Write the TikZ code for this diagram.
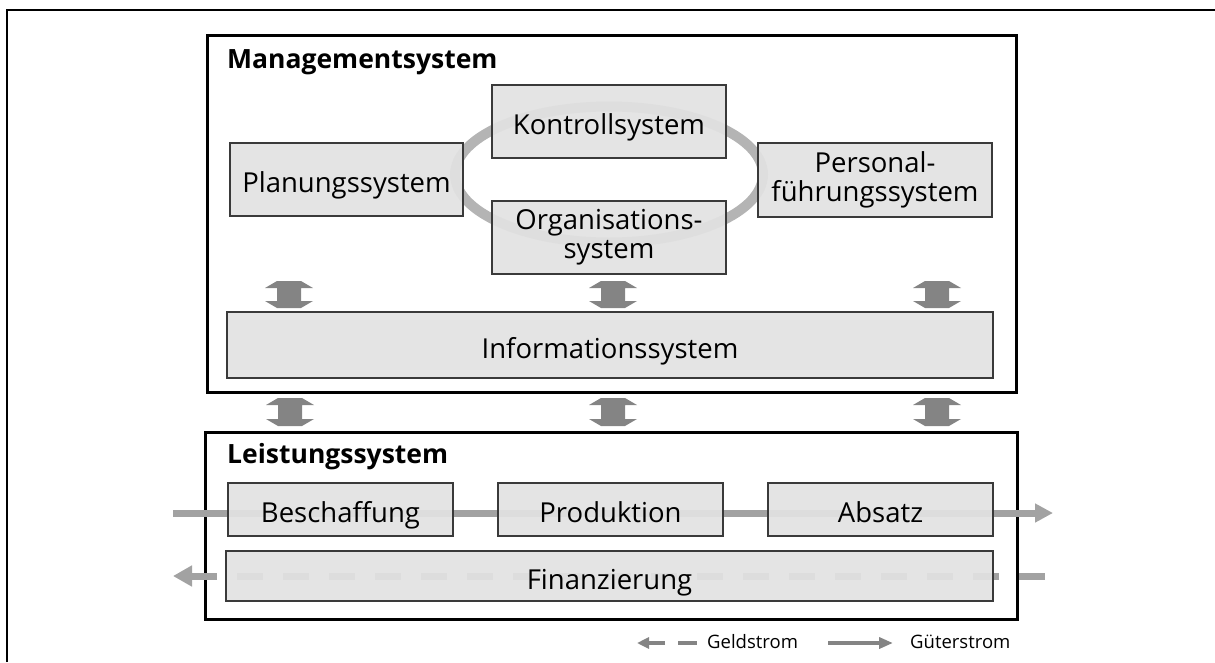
\documentclass[tikz,border=0pt]{standalone}
\usepackage{fontspec}
\setmainfont{Open Sans}
\usetikzlibrary{arrows.meta}
\definecolor{boxfill}{HTML}{E2E2E2}
\definecolor{boxline}{HTML}{3A3A3A}
\definecolor{flowgray}{HTML}{A2A2A2}
\definecolor{ringgray}{HTML}{B4B4B4}
\definecolor{blockgray}{HTML}{848484}
\newcommand\udarr[3]{% x, ytop, ybot
  \fill[blockgray] (#1-12,#2) -- (#1+12,#2) -- (#1+24,#2+7) -- (#1+12,#2+7)
    -- (#1+12,#3-7) -- (#1+24,#3-7) -- (#1+12,#3) -- (#1-12,#3)
    -- (#1-24,#3-7) -- (#1-12,#3-7) -- (#1-12,#2+7) -- (#1-24,#2+7) -- cycle;}
\tikzset{
  sysbox/.style={draw=boxline, line width=1.3pt, fill=boxfill, fill opacity=0.93,
    text opacity=1, inner sep=0pt, align=center,
    font=\fontsize{27.5}{29}\selectfont},
  oneline/.style={text height=32pt, text depth=6pt},
  frame/.style={draw=black, line width=3pt},
  titletext/.style={anchor=base west, inner sep=0pt,
    font=\fontsize{26.5}{30}\selectfont\bfseries},
  flow/.style={draw=flowgray, line width=7pt},
  legendtext/.style={anchor=west, inner sep=0pt, font=\fontsize{18.5}{20}\selectfont},
  legflow/.style={draw=blockgray, line width=3.5pt}
}
\begin{document}
\begin{tikzpicture}[x=1pt,y=-1pt]
\useasboundingbox (0,0) rectangle (1215,662);
% outer frame
\draw[line width=2pt] (7,662) -- (7,10) -- (1215,10);
% management frame
\draw[frame] (207,35) rectangle (1016,392);
\node[titletext] (mtitle) at (227,68) {Managementsystem};
% ring
\draw[ringgray, line width=10pt] (609,174.5) ellipse [x radius=154, y radius=68];
% management boxes
\node[sysbox, oneline, minimum width=233pt, minimum height=73pt] (plan) at (346.5,179.5) {Planungssystem};
\node[sysbox, oneline, minimum width=234pt, minimum height=73pt] (kontr) at (609,121.5) {Kontrollsystem};
\node[sysbox, minimum width=234pt, minimum height=73pt] (org) at (609,237.5) {Organisations-\\system};
\node[sysbox, minimum width=234pt, minimum height=74pt] (pers) at (875,180) {Personal-\\führungssystem};
\node[sysbox, oneline, minimum width=766pt, minimum height=66pt] (info) at (610,345) {Informationssystem};
% block arrows
\udarr{289}{281}{308}
\udarr{613}{281}{308}
\udarr{937}{281}{308}
\udarr{290}{398}{426}
\udarr{613}{398}{426}
\udarr{937}{398}{426}
% Leistungssystem frame
\draw[frame] (205,432) rectangle (1017,619);
\node[titletext] (ltitle) at (227,463) {Leistungssystem};
% flows
\coordinate (gin) at (173,513);
\coordinate (gout) at (1053,513);
\draw[flow, -{Triangle[length=18pt,width=18pt]}] (gin) -- (gout);
\coordinate (fin1) at (1045,576);
\coordinate (fin2) at (173,576);
\draw[flow, dash pattern=on 26pt off 20pt, -{Triangle[length=19pt,width=20pt]}] (fin1) -- (fin2);
% Leistung boxes
\node[sysbox, oneline, minimum width=225pt, minimum height=53pt] (besch) at (340.5,509.5) {Beschaffung};
\node[sysbox, oneline, minimum width=225pt, minimum height=53pt] (prod) at (610.5,509.5) {Produktion};
\node[sysbox, oneline, minimum width=225pt, minimum height=53pt] (abs) at (880.5,509.5) {Absatz};
\node[sysbox, oneline, minimum width=767pt, minimum height=50pt] (fin) at (609.5,576) {Finanzierung};
% legend
\coordinate (lg1) at (665,643);
\coordinate (lg2) at (637,643);
\draw[legflow, -{Triangle[length=12pt,width=11pt]}] (lg1) -- (lg2);
\coordinate (lg3) at (678,643);
\coordinate (lg4) at (697,643);
\draw[legflow] (lg3) -- (lg4);
\node[legendtext] (geld) at (707,642) {Geldstrom};
\coordinate (lg5) at (828,643);
\coordinate (lg6) at (893,643);
\draw[legflow, -{Triangle[length=14pt,width=11pt]}] (lg5) -- (lg6);
\node[legendtext] (gueter) at (910,642) {Güterstrom};
\end{tikzpicture}
\end{document}
